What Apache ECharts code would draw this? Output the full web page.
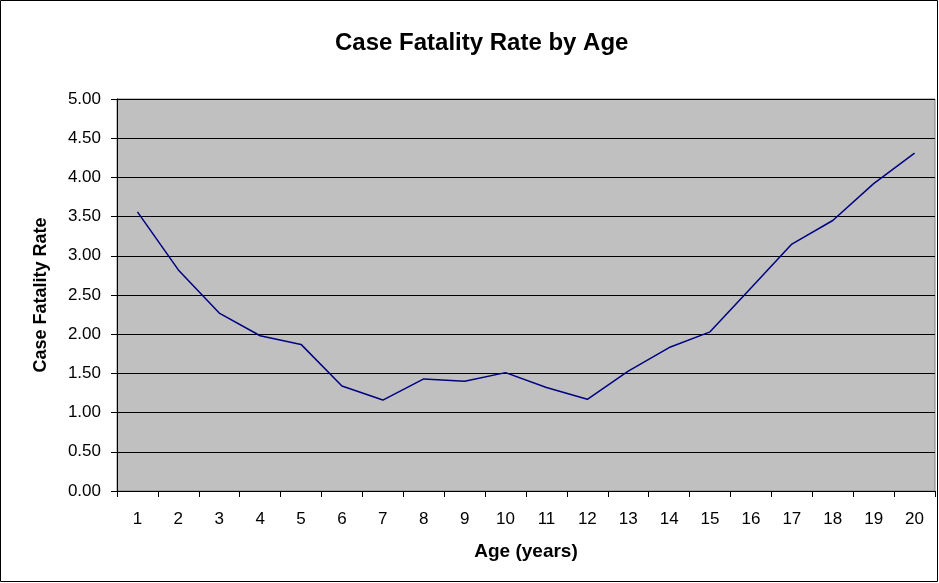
<!DOCTYPE html>
<html>
<head>
<meta charset="utf-8">
<script src="https://cdn.jsdelivr.net/npm/echarts@6/dist/echarts.min.js"></script>
<style>
  html, body { margin: 0; padding: 0; background: #fff; }
  #chart { width: 939px; height: 583px; }
</style>
</head>
<body>
<div id="chart"></div>
<script>
// data
var ages = ['1','2','3','4','5','6','7','8','9','10','11','12','13','14','15','16','17','18','19','20'];
var fatalityRate = [3.56, 2.82, 2.27, 1.98, 1.87, 1.34, 1.16, 1.43, 1.40, 1.51, 1.32, 1.17, 1.53, 1.83, 2.03, 2.59, 3.15, 3.45, 3.92, 4.31];

var mycharts = echarts.init(document.getElementById('chart'));
var font = 'Liberation Sans, Arial, sans-serif';

var option = {
    animation: false,
    backgroundColor: '#fff',
    title: {
        text: 'Case Fatality Rate by Age',
        left: 330,
        top: 26,
        textStyle: { fontFamily: font, fontSize: 24, fontWeight: 'bold', color: '#000' }
    },
    grid: {
        left: 117,
        top: 99,
        right: 4,
        bottom: 92,
        show: true,
        backgroundColor: '#c0c0c0',
        borderColor: '#808080',
        borderWidth: 1
    },
    xAxis: {
        type: 'category',
        data: ages,
        boundaryGap: true,
        name: 'Age (years)',
        nameLocation: 'middle',
        nameGap: 51,
        nameTextStyle: { fontFamily: font, fontSize: 19, fontWeight: 'bold', color: '#000' },
        axisLine: { lineStyle: { color: '#000', width: 1 } },
        axisTick: { show: true, alignWithLabel: false, length: 6, lineStyle: { color: '#000' } },
        axisLabel: { fontFamily: font, fontSize: 17, color: '#000', margin: 20 },
        splitLine: { show: false }
    },
    yAxis: {
        type: 'value',
        min: 0,
        max: 5,
        interval: 0.5,
        name: 'Case Fatality Rate',
        nameLocation: 'middle',
        nameGap: 67,
        nameRotate: 90,
        nameTextStyle: { fontFamily: font, fontSize: 18, fontWeight: 'bold', color: '#000' },
        axisLine: { show: true, lineStyle: { color: '#000', width: 1 } },
        axisTick: { show: true, length: 6, lineStyle: { color: '#000' } },
        axisLabel: {
            fontFamily: font, fontSize: 17, color: '#000', margin: 16,
            formatter: function (v) { return v.toFixed(2); }
        },
        splitLine: { show: true, lineStyle: { color: '#000', width: 1 } }
    },
    series: [
        {
            name: 'Case Fatality Rate',
            type: 'line',
            data: fatalityRate,
            symbol: 'none',
            lineStyle: { color: '#000080', width: 1.5 }
        }
    ],
    graphic: [
        {
            type: 'rect',
            shape: { x: 0.5, y: 0.5, width: 937, height: 581 },
            style: { fill: 'none', stroke: '#000', lineWidth: 1 },
            silent: true
        }
    ]
};
mycharts.setOption(option);
</script>
</body>
</html>
